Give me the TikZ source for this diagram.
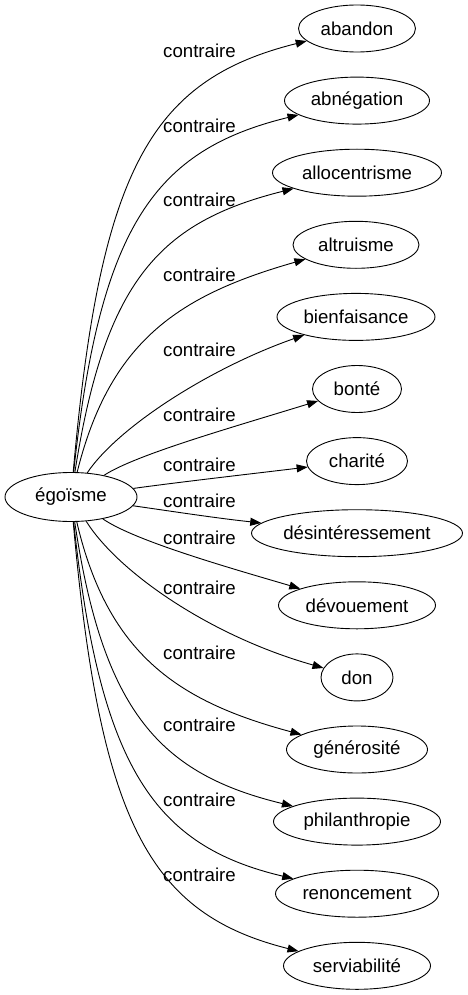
\documentclass[tikz,border=0pt]{standalone}
\usepackage{fontspec}
\setmainfont{Liberation Sans}
\usetikzlibrary{shapes.geometric}
\usetikzlibrary{arrows.meta}

\tikzset{
    mot/.style={draw, ellipse, line width=0.9pt, inner sep=0pt, minimum height=47pt, font=\fontsize{18.67}{22}\selectfont},
    rel/.style={inner sep=0pt, font=\fontsize{18.67}{22}\selectfont},
    lien/.style={line width=0.9pt, -{Triangle[length=11pt, width=8pt]}}
}

\begin{document}
\begin{tikzpicture}[x=1pt, y=-1pt]

    \useasboundingbox (0,0) rectangle (467,995);

    %% Mot central
    \node[mot, minimum width=132pt, minimum height=49pt] (ego) at (71,497) {égoïsme};

    %% --- Contraires ---
    \node[mot, minimum width=117pt] (abandon)       at (357, 28.5) {abandon};
    \node[mot, minimum width=145pt] (abnegation)    at (357,100.6) {abnégation};
    \node[mot, minimum width=169pt] (allocentrisme) at (357,172.7) {allocentrisme};
    \node[mot, minimum width=126pt] (altruisme)     at (356,244.8) {altruisme};
    \node[mot, minimum width=158pt] (bienfaisance)  at (356,316.9) {bienfaisance};
    \node[mot, minimum width=89pt]  (bonte)         at (357,389.0) {bonté};
    \node[mot, minimum width=101pt] (charite)       at (357,461.1) {charité};
    \node[mot, minimum width=211pt] (desint)        at (357,533.2) {désintéressement};
    \node[mot, minimum width=157pt] (devouement)    at (357,605.3) {dévouement};
    \node[mot, minimum width=72pt]  (don)           at (357,677.4) {don};
    \node[mot, minimum width=141pt] (generosite)    at (357,749.5) {générosité};
    \node[mot, minimum width=167pt] (philanthropie) at (357,821.6) {philanthropie};
    \node[mot, minimum width=163pt] (renoncement)   at (357,893.7) {renoncement};
    \node[mot, minimum width=147pt] (serviabilite)  at (357,965.8) {serviabilité};

    %% --- Aretes (au-dessus) ---
    \draw[lien] (ego) .. controls (100,170) and (150,80)  .. (abandon);
    \draw[lien] (ego) .. controls (100,225) and (155,150) .. (abnegation);
    \draw[lien] (ego) .. controls (105,280) and (160,222) .. (allocentrisme);
    \draw[lien] (ego) .. controls (110,340) and (180,295) .. (altruisme);
    \draw[lien] (ego) .. controls (118,427) and (210,368) .. (bienfaisance);
    \draw[lien] (ego) .. controls (135,455) and (230,428) .. (bonte);
    \draw[lien] (ego) .. controls (180,482) and (250,474) .. (charite);

    %% --- Aretes (au-dessous) ---
    \draw[lien] (ego) .. controls (170,511) and (215,518) .. (desint);
    \draw[lien] (ego) .. controls (135,541) and (230,568) .. (devouement);
    \draw[lien] (ego) .. controls (118,572) and (210,636) .. (don);
    \draw[lien] (ego) .. controls (108,656) and (180,702) .. (generosite);
    \draw[lien] (ego) .. controls (103,712) and (160,774) .. (philanthropie);
    \draw[lien] (ego) .. controls (100,769) and (155,846) .. (renoncement);
    \draw[lien] (ego) .. controls (100,824) and (150,914) .. (serviabilite);

    %% Etiquettes
    \node[rel] (r0)  at (199.5, 51) {contraire};
    \node[rel] (r1)  at (199.5,126) {contraire};
    \node[rel] (r2)  at (199.5,200) {contraire};
    \node[rel] (r3)  at (199.5,275) {contraire};
    \node[rel] (r4)  at (199.5,350) {contraire};
    \node[rel] (r5)  at (199.5,415) {contraire};
    \node[rel] (r6)  at (199.5,465) {contraire};
    \node[rel] (r7)  at (199.5,501) {contraire};
    \node[rel] (r8)  at (199.5,538) {contraire};
    \node[rel] (r9)  at (199.5,588) {contraire};
    \node[rel] (r10) at (199.5,653) {contraire};
    \node[rel] (r11) at (199.5,725) {contraire};
    \node[rel] (r12) at (199.5,800) {contraire};
    \node[rel] (r13) at (199.5,875) {contraire};

\end{tikzpicture}
\end{document}
